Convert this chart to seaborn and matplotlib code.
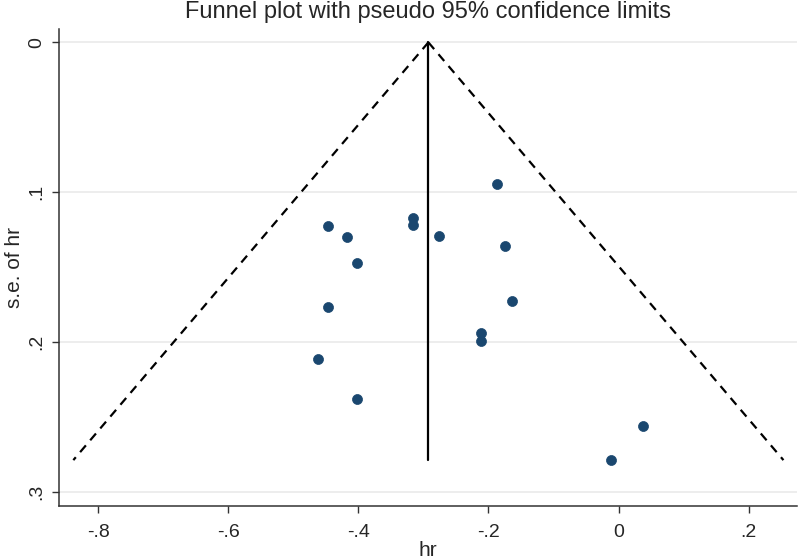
import numpy as np
import pandas as pd
import matplotlib
matplotlib.use("Agg")
import matplotlib.pyplot as plt
import seaborn as sns

# study estimates (log hr) and their standard errors
hr = [-0.447, -0.417, -0.4015, -0.447, -0.4624, -0.4015, -0.316, -0.316,
      -0.2755, -0.1874, -0.1745, -0.1638, -0.2114, -0.2114, 0.038, -0.0112]
se_hr = [0.1223, 0.1298, 0.1471, 0.1763, 0.2109, 0.2376, 0.1169, 0.1218,
         0.1291, 0.0945, 0.1358, 0.1723, 0.1938, 0.1989, 0.2558, 0.2785]

# pooled estimate (vertical line) and pseudo 95% limits
pooled = -0.2924
z95 = 1.96

xticks = [-0.8, -0.6, -0.4, -0.2, 0.0, 0.2]
xtick_labels = ["-.8", "-.6", "-.4", "-.2", "0", ".2"]
yticks = [0.0, 0.1, 0.2, 0.3]
ytick_labels = ["0", ".1", ".2", ".3"]

sns.set_style("white")
plt.rcParams["font.family"] = ["Liberation Sans", "DejaVu Sans"]

df = pd.DataFrame({"hr": hr, "se": se_hr})
se_max = max(se_hr)

# funnel outline: apex at the pooled estimate, widening with the s.e.
funnel_left = pd.DataFrame({"x": [pooled, pooled - z95 * se_max], "y": [0.0, se_max]})
funnel_right = pd.DataFrame({"x": [pooled, pooled + z95 * se_max], "y": [0.0, se_max]})
center = pd.DataFrame({"x": [pooled, pooled], "y": [0.0, se_max]})

fig = plt.figure(figsize=(8, 5.6), dpi=100)
ax = fig.add_axes([0.074, 0.0964, 0.922, 0.8518])

# light horizontal grid like stata's s2color scheme
for yv in yticks:
    ax.axhline(yv, color="#eaeaea", lw=1.2, zorder=0)

sns.lineplot(data=funnel_left, x="x", y="y", ax=ax, color="black", lw=1.6,
             linestyle=(0, (4, 3)), sort=False, estimator=None)
sns.lineplot(data=funnel_right, x="x", y="y", ax=ax, color="black", lw=1.6,
             linestyle=(0, (4, 3)), sort=False, estimator=None)
sns.lineplot(data=center, x="x", y="y", ax=ax, color="black", lw=1.6,
             sort=False, estimator=None)
sns.scatterplot(data=df, x="hr", y="se", ax=ax, color="#1a476f", s=52,
                edgecolor="#1a476f", linewidth=0.5, zorder=3)

ax.set_xlim(-0.86, 0.274)
ax.set_ylim(0.3091, -0.0089)

ax.set_xticks(xticks)
ax.set_xticklabels(xtick_labels, fontsize=14)
ax.set_yticks(yticks)
ax.set_yticklabels(ytick_labels, fontsize=14, rotation=90, va="center")
ax.tick_params(axis="both", direction="out", length=5, width=1, color="#333333",
               bottom=True, left=True)
ax.tick_params(axis="x", pad=8)
ax.tick_params(axis="y", pad=5)

for side in ["top", "right"]:
    ax.spines[side].set_visible(False)
for side in ["left", "bottom"]:
    ax.spines[side].set_color("#333333")
    ax.spines[side].set_linewidth(1.1)

ax.set_xlabel("hr", fontsize=15, labelpad=0)
ax.set_ylabel("s.e. of hr", fontsize=15, labelpad=3)

# title centred over the plot region, near the top edge
fig.text(ax.get_position().x0 + ax.get_position().width / 2, 1 - 1 / 560,
         "Funnel plot with pseudo 95% confidence limits",
         fontsize=17, ha="center", va="top")

fig.savefig("out.png", dpi=100)
